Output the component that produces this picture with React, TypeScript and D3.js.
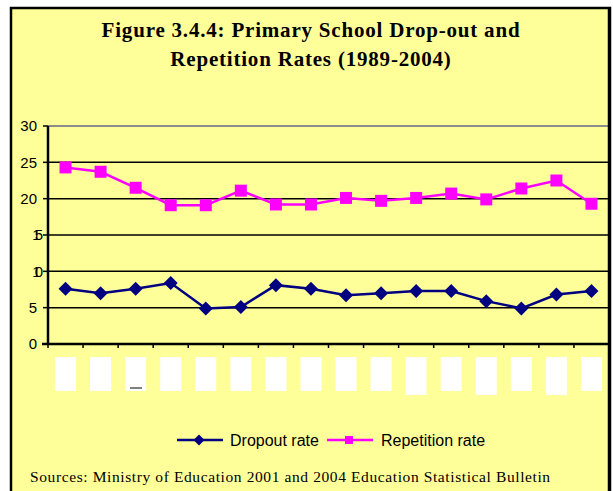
import React from "react";
import * as d3 from "d3";

const years = ["1989","1990","1991","1992","1993","1994","1995","1996","1997","1998","1999","2000","2001","2002","2003","2004"];
const dropout = [7.6, 7.0, 7.6, 8.4, 4.9, 5.1, 8.1, 7.6, 6.7, 7.0, 7.3, 7.3, 5.9, 4.9, 6.8, 7.3];
const repetition = [24.3, 23.7, 21.5, 19.1, 19.1, 21.1, 19.2, 19.2, 20.1, 19.7, 20.1, 20.7, 19.9, 21.4, 22.5, 19.3];
const yTicks = [0, 5, 10, 15, 20, 25, 30];
const labelBottoms = [0, 0, 0, 0, 0, 0, 0, 0, 0, 0, 4, 0, 4, 0, 4, 0];

const W = 613, H = 491;
const plot = { left: 48, right: 609, top: 126, bottom: 344 };

export default function App() {
  const x = d3.scaleBand<string>().domain(years).range([plot.left, plot.right]);
  const y = d3.scaleLinear().domain([0, 30]).range([plot.bottom, plot.top]);
  const cx = (i: number) => (x(years[i]) as number) + x.bandwidth() / 2;
  const line = d3.line<number>().x((_, i) => cx(i)).y((d) => y(d));
  const diamond = (px: number, py: number, r: number) =>
    `M${px},${py - r}L${px + r},${py}L${px},${py + r}L${px - r},${py}Z`;
  const serif = "Liberation Serif, Times New Roman, serif";
  const sans = "Liberation Sans, Arial, sans-serif";

  return (
    <svg width={W} height={H} style={{ position: "absolute", left: 0, top: 0, background: "#fff" }}>
      <rect x={11} y={8} width={599} height={495} fill="#FFFF99" stroke="#000" strokeWidth={2.5} />
      <text x={311} y={37} textAnchor="middle" fontFamily={serif} fontWeight="bold" fontSize={21} letterSpacing={0.8}>Figure 3.4.4: Primary School Drop-out and</text>
      <text x={311} y={66} textAnchor="middle" fontFamily={serif} fontWeight="bold" fontSize={21} letterSpacing={0.8}>Repetition Rates (1989-2004)</text>

      {/* gridlines */}
      {yTicks.filter((t) => t > 0 && t < 30).map((t) => (
        <line key={t} x1={plot.left} x2={plot.right} y1={y(t)} y2={y(t)} stroke="#000" strokeWidth={1.5} />
      ))}
      <line x1={plot.left} x2={plot.right} y1={y(30)} y2={y(30)} stroke="#8c8c8c" strokeWidth={2} />
      {/* y axis */}
      <line x1={plot.left} x2={plot.left} y1={y(30)} y2={plot.bottom} stroke="#000" strokeWidth={2.5} />
      {yTicks.map((t) => (
        <g key={t}>
          <line x1={43} x2={plot.left} y1={y(t)} y2={y(t)} stroke="#000" strokeWidth={1.5} />
          <text x={37} y={y(t)} dy="0.36em" textAnchor="end" fontFamily={sans} fontSize={15}
            letterSpacing={t === 10 || t === 15 ? -6 : 0}>{t}</text>
        </g>
      ))}
      {/* x axis */}
      <line x1={42} x2={plot.right} y1={plot.bottom} y2={plot.bottom} stroke="#000" strokeWidth={2.5} />
      {years.map((yr) => (
        <line key={"t" + yr} x1={x(yr) as number} x2={x(yr) as number} y1={plot.bottom} y2={plot.bottom + 4} stroke="#000" strokeWidth={1.5} />
      ))}
      {/* blanked category labels */}
      {years.map((yr, i) => (
        <rect key={"l" + yr} x={cx(i) - 10.5} y={357} width={21} height={34 + labelBottoms[i]} fill="#fff" />
      ))}
      <line x1={130} x2={142} y1={388} y2={388} stroke="#000" strokeWidth={1} />
      <line x1={plot.right} x2={plot.right} y1={8} y2={H} stroke="#000" strokeWidth={2.5} />

      {/* series */}
      <path d={line(repetition) as string} fill="none" stroke="#FF00FF" strokeWidth={2.5} />
      {repetition.map((v, i) => (
        <rect key={"r" + i} x={cx(i) - 6} y={y(v) - 6} width={12} height={12} fill="#FF00FF" />
      ))}
      <path d={line(dropout) as string} fill="none" stroke="#000080" strokeWidth={2.5} />
      {dropout.map((v, i) => (
        <path key={"d" + i} d={diamond(cx(i), y(v), 7)} fill="#000080" />
      ))}

      {/* legend */}
      <line x1={177} x2={223} y1={440} y2={440} stroke="#000080" strokeWidth={2.5} />
      <path d={diamond(199, 440, 5.5)} fill="#000080" />
      <text x={230} y={446} fontFamily={sans} fontSize={16}>Dropout rate</text>
      <line x1={327} x2={373} y1={440} y2={440} stroke="#FF00FF" strokeWidth={2.5} />
      <rect x={345} y={436} width={8} height={8} fill="#FF00FF" />
      <text x={381} y={446} fontFamily={sans} fontSize={16}>Repetition rate</text>

      <text x={30} y={482} fontFamily={serif} fontSize={15.5} letterSpacing={0.6}>Sources: Ministry of Education 2001 and 2004 Education Statistical Bulletin</text>
    </svg>
  );
}
